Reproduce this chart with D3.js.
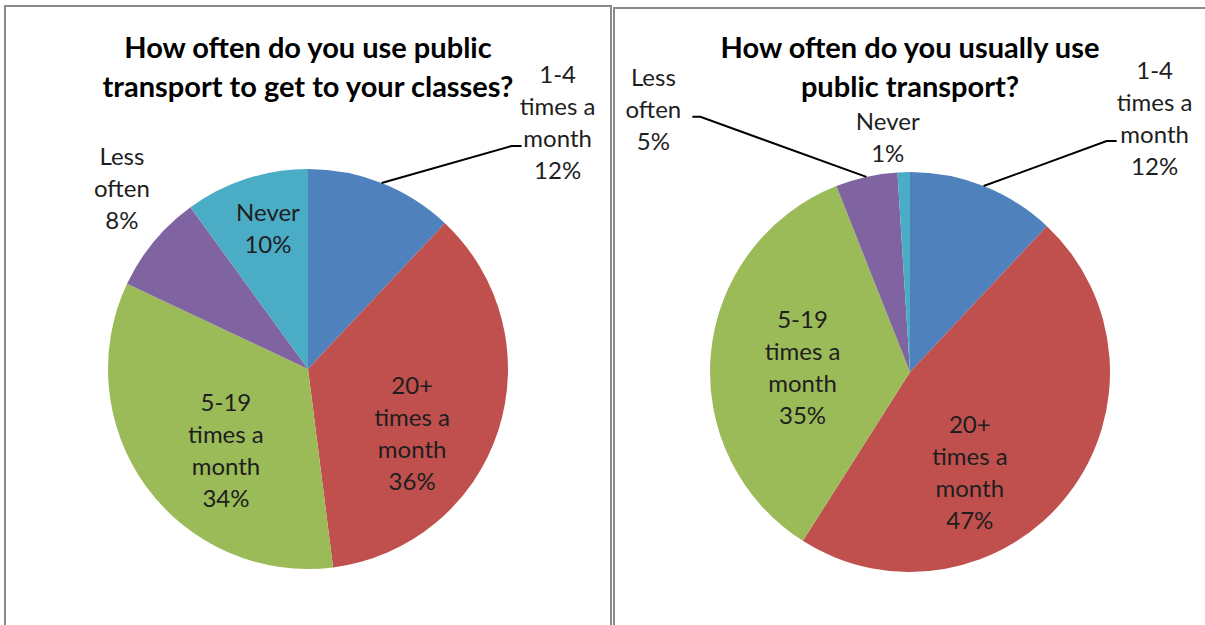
<!DOCTYPE html>
<html>
<head>
<meta charset="utf-8">
<script src="https://cdn.jsdelivr.net/npm/d3@7"></script>
<style>
  body { margin: 0; background: #fff; }
  svg { display: block; }
</style>
</head>
<body>
<svg id="chart" width="1205" height="625"></svg>
<script>

// data
var categories = ["1-4 times a month", "20+ times a month", "5-19 times a month", "Less often", "Never"];
var labelLines = [["1-4", "times a", "month"], ["20+", "times a", "month"], ["5-19", "times a", "month"], ["Less", "often"], ["Never"]];
var classesValues = [12, 36, 34, 8, 10];
var usualValues = [12, 47, 35, 5, 1];
var classesTitle = ["How often do you use public", "transport to get to your classes?"];
var usualTitle = ["How often do you usually use", "public transport?"];

// Excel 2007 palette
var colors = ["#4f81bd", "#c0504d", "#9bbb59", "#8064a2", "#4bacc6"];

var svg = d3.select("#chart");

// label placement: polar position (fraction of radius) on the slice mid-angle, then a nudge
// leader: where the line meets the label, relative to label centre
var classesLayout = [
  {r: 1.0, dx: 176, dy: -60, leader: {x: -36, y: 23, elbow: -10}},
  {r: 0.6, dx: -10, dy: 28},
  {r: 0.6, dx: 15, dy: 11},
  {r: 1.0, dx: -32, dy: -53},
  {r: 0.6, dx: -3, dy: -26}
];
var usualLayout = [
  {r: 1.0, dx: 171, dy: -67, leader: {x: -38, y: 22, elbow: -10}},
  {r: 0.6, dx: -35, dy: 27},
  {r: 0.6, dx: 12, dy: 7},
  {r: 1.0, dx: -213, dy: -67, leader: {x: 39, y: 7, elbow: 8}},
  {r: 1.0, dx: -16, dy: -35}
];

function draw_frame(x0, y0, x1, y1) {
  svg.append("path")
    .attr("d", "M" + x0 + "," + y1 + "V" + y0 + "H" + x1 + "V" + y1)
    .attr("fill", "none")
    .attr("stroke", "#8a8a8a")
    .attr("stroke-width", 2);
}

function pie_chart(cx, cy, radius, values, title, layout) {
  var g = svg.append("g").attr("transform", "translate(" + cx + "," + cy + ")");

  var pie = d3.pie().sort(null).value(function(d) { return d; });
  var arc = d3.arc().innerRadius(0).outerRadius(radius);
  var arcs = pie(values);

  g.selectAll("path.slice")
    .data(arcs)
    .enter().append("path")
      .attr("class", "slice")
      .attr("d", arc)
      .attr("fill", function(d, i) { return colors[i]; });

  // title
  svg.append("g")
      .attr("font-family", "Lato, 'Open Sans', sans-serif")
      .attr("font-weight", "bold")
      .attr("font-size", "29px")
      .attr("fill", "#000")
      .attr("text-anchor", "middle")
    .selectAll("text")
    .data(title)
    .enter().append("text")
      .attr("x", cx)
      .attr("y", function(d, i) { return 48 + i * 39; })
      .attr("dy", "0.35em")
      .text(function(d) { return d; });

  // data labels
  arcs.forEach(function(d, i) {
    var lay = layout[i];
    var mid = (d.startAngle + d.endAngle) / 2;
    var ex = Math.sin(mid) * radius, ey = -Math.cos(mid) * radius;
    var lx = Math.sin(mid) * radius * lay.r + lay.dx,
        ly = -Math.cos(mid) * radius * lay.r + lay.dy;

    var lines = labelLines[i].concat([d.data + "%"]);
    var step = 32;
    var top = ly - (lines.length - 1) * step / 2;

    g.append("g")
        .attr("font-family", "Lato, 'Open Sans', sans-serif")
        .attr("font-size", "24px")
        .attr("fill", "#1e1e1e")
        .attr("text-anchor", "middle")
      .selectAll("text")
      .data(lines)
      .enter().append("text")
        .attr("x", lx)
        .attr("y", function(t, j) { return top + j * step; })
        .attr("dy", "0.35em")
        .text(function(t) { return t; });

    if (lay.leader) {
      var endX = lx + lay.leader.x, endY = ly + lay.leader.y;
      g.append("path")
        .attr("d", d3.line()([[ex, ey], [endX + lay.leader.elbow, endY], [endX, endY]]))
        .attr("fill", "none")
        .attr("stroke", "#000")
        .attr("stroke-width", 2);
    }
  });
}

draw_frame(5, 6, 611, 625);
draw_frame(614, 8, 1212, 625);

pie_chart(308, 369, 200, classesValues, classesTitle, classesLayout);
pie_chart(910, 372, 200, usualValues, usualTitle, usualLayout);

</script>
</body>
</html>
